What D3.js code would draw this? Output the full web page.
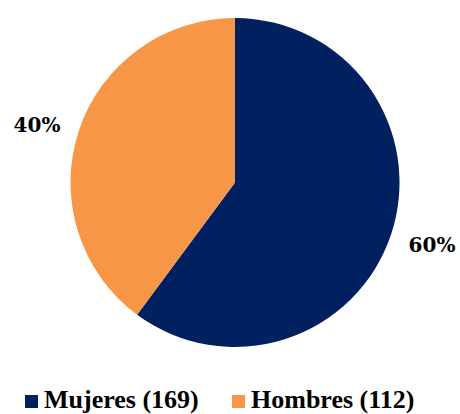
<!DOCTYPE html>
<html><head><meta charset="utf-8">
<script src="https://cdn.jsdelivr.net/npm/d3@7"></script>
<style>body{margin:0;background:#fff}svg{display:block}</style>
</head><body>
<script>
const categories = ["Mujeres", "Hombres"];
const values = [169, 112];
const colors = ["#002060", "#F79646"];
const pctLabels = ["60%", "40%"];

const W = 460, H = 414;
const svg = d3.select("body").append("svg").attr("width", W).attr("height", H);
const cx = 235, cy = 182.5, r = 164.5;
const pie = d3.pie().sort(null).value(d => d)(values);
const arc = d3.arc().innerRadius(0).outerRadius(r);
const g = svg.append("g").attr("transform", `translate(${cx},${cy})`);
g.selectAll("path").data(pie).join("path").attr("d", arc).attr("fill", (d, i) => colors[i]);

// percentage labels positioned outside
const labelPos = [[432, 252], [37, 132]];
svg.selectAll("text.pct").data(pie).join("text").attr("class", "pct")
  .attr("x", (d, i) => labelPos[i][0]).attr("y", (d, i) => labelPos[i][1])
  .attr("text-anchor", "middle")
  .style("font-family", "'DejaVu Serif', serif").style("font-weight", "bold").style("font-size", "20px")
  .attr("fill", "#000").text((d, i) => pctLabels[i]);

// legend
const legX = [25, 232];
const leg = svg.selectAll("g.leg").data(categories).join("g").attr("class", "leg")
  .attr("transform", (d, i) => `translate(${legX[i]},0)`);
leg.append("rect").attr("x", 0).attr("y", 395).attr("width", 13).attr("height", 13).attr("fill", (d, i) => colors[i]);
leg.append("text").attr("x", 19).attr("y", 408)
  .style("font-family", "'Liberation Serif', 'Times New Roman', serif").style("font-weight", "bold").style("font-size", "26px")
  .attr("fill", "#000").text((d, i) => `${d} (${values[i]})`);
</script>
</body></html>
